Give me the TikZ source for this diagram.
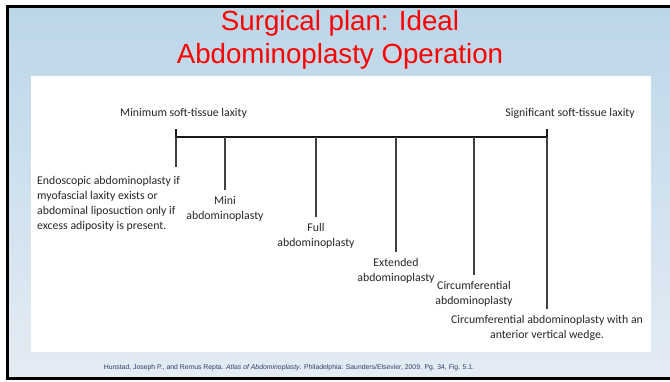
\documentclass[tikz,border=0pt]{standalone}
\usepackage{fontspec}
\setmainfont{Liberation Sans}
\newfontfamily\labelfont{Carlito}
\usetikzlibrary{positioning}
\definecolor{slidetop}{RGB}{188,214,232}
\definecolor{slidebottom}{RGB}{228,236,244}
\definecolor{citeblue}{RGB}{45,62,105}
\tikzset{basic/.style={text=black!85,inner sep=2pt,
                       font=\labelfont\fontsize{11.8}{15}\selectfont}}
\tikzset{stage/.style={basic,align=center,anchor=north,inner ysep=6pt}}
\tikzset{laxity/.style={basic}}
\tikzset{bar/.style={draw=black!90,line width=2pt}}
\tikzset{drop/.style={draw=black!75,line width=1.1pt}}

\begin{document}
\begin{tikzpicture}[x=1pt,y=-1pt]
    % Slide background, white panel and frame
    \useasboundingbox (0,0) rectangle (670,381);
    \fill[white] (0,0) rectangle (670,381);
    \shade[top color=slidetop,bottom color=slidebottom] (7,6) rectangle (670,378);
    \fill[white] (31,76) rectangle (651,352);
    \draw[line width=3pt] (672,6) -- (7,6) -- (7,378) -- (672,378);
    % Title (base is the last line)
    \node[text=red,font=\fontsize{27.7}{33}\selectfont,align=center,anchor=base]
        (title) at (340,63) {Surgical plan: Ideal\\Abdominoplasty Operation};
    % Laxity scale ends
    \node[laxity,anchor=base west] (minlax) at (118,116) {Minimum soft-tissue laxity};
    \node[laxity,anchor=base east] (siglax) at (637,116) {Significant soft-tissue laxity};
    % Draw the scale bar with its end ticks
    \coordinate (b0) at (176,137);
    \coordinate (b5) at (547,137);
    \draw[bar] (b0) -- (b5);
    \draw[bar] (b0) ++(0,-8) -- ++(0,16);
    \draw[bar] (b5) ++(0,-8) -- ++(0,16);
    % Left end: endoscopic option
    \coordinate (e0) at (176,167);
    \draw[drop] (b0) -- (e0);
    \node[basic,align=left,anchor=north west] (endo) at (35,174)
        {Endoscopic abdominoplasty if\\myofascial laxity exists or\\abdominal liposuction only if\\excess adiposity is present.};
    % Procedures along the scale
    \foreach \x/\y/\t [count=\i] in {225/190/{Mini\\abdominoplasty},
                                     316/217/{Full\\abdominoplasty},
                                     396/252/{Extended\\abdominoplasty},
                                     474/275/{Circumferential\\abdominoplasty},
                                     547/309/{Circumferential abdominoplasty with an\\anterior vertical wedge.}}{%
          \coordinate (b\i) at (\x,137);
          \node[stage] (s\i) at (\x,\y) {\t};
          \draw[drop] (b\i) -- (s\i);
        }
    % Source
    \node[font=\fontsize{6.85}{8}\selectfont,text=citeblue,anchor=base] (cite) at (289,369)
        {Hunstad, Joseph P., and Remus Repta. \textit{Atlas of Abdominoplasty}. Philadelphia: Saunders/Elsevier, 2009. Pg. 34, Fig. 5.1.};
\end{tikzpicture}
\end{document}
